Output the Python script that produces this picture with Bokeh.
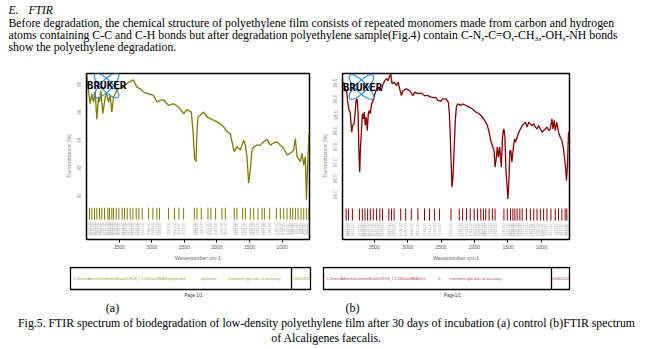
import math
from bokeh.plotting import figure
from bokeh.layouts import column, row
from bokeh.models import Range1d, FixedTicker, Label
from bokeh.core.properties import value
from bokeh.embed import file_html
from bokeh.resources import INLINE

# ---------------- data ----------------
A_WN = [3997, 3971, 3946, 3920, 3894, 3869, 3843, 3818, 3802, 3782,
        3751, 3715, 3690, 3664, 3638, 3613, 3587, 3561, 3536, 3510,
        3433, 3357, 3280, 3228, 3177, 3126, 3049, 2972, 2921, 2870,
        2819, 2742, 2665, 2588, 2511, 2460, 2393, 2368, 2342, 2322,
        2306, 2291, 2255, 2204, 2153, 2101, 2050, 1999, 1948, 1896,
        1845, 1794, 1768, 1733, 1692, 1640, 1589, 1563, 1538, 1512,
        1487, 1461, 1435, 1384, 1333, 1282, 1231, 1179, 1128, 1077,
        1026, 974, 923, 872, 820, 795, 769, 718, 693, 667,
        641, 626, 605, 590, 575]
A_T = [98.81, 97.57, 96.62, 97.33, 96.74, 97.45, 95.48, 97.10, 96.74, 97.57,
       95.90, 97.10, 97.33, 96.74, 97.21, 96.02, 97.10, 97.33, 97.57, 97.69,
       97.81, 98.17, 98.33, 97.81, 97.69, 97.45, 97.33, 97.21, 96.74, 96.86,
       96.90, 96.50, 96.62, 96.38, 95.90, 96.19, 96.02, 94.71, 92.69, 92.45,
       94.48, 95.67, 95.79, 96.02, 95.67, 95.55, 95.43, 95.31, 95.19, 94.95,
       94.60, 94.48, 93.88, 93.17, 93.52, 93.29, 94.00, 93.64, 92.81, 90.90,
       91.86, 93.29, 93.52, 93.64, 93.64, 93.88, 94.05, 93.64, 93.81, 93.88,
       93.64, 93.40, 92.93, 93.05, 93.29, 94.12, 92.81, 92.45, 93.05, 92.21,
       92.81, 89.71, 92.33, 94.36, 94.48]

B_WN = [3975, 3960, 3936, 3911, 3896, 3876, 3861, 3847, 3837, 3822,
        3802, 3787, 3772, 3757, 3743, 3728, 3718, 3708, 3693, 3678,
        3663, 3649, 3634, 3619, 3604, 3589, 3574, 3559, 3540, 3515,
        3490, 3465, 3441, 3416, 3391, 3366, 3342, 3317, 3292, 3267,
        3253, 3233, 3203, 3168, 3144, 3119, 3094, 3069, 3020, 2970,
        2921, 2896, 2847, 2797, 2748, 2698, 2649, 2574, 2550, 2500,
        2475, 2426, 2391, 2376, 2362, 2347, 2337, 2322, 2302, 2287,
        2272, 2253, 2203, 2178, 2129, 2079, 2030, 1980, 1931, 1881,
        1832, 1807, 1782, 1758, 1733, 1708, 1693, 1678, 1659, 1644,
        1624, 1599, 1584, 1570, 1560, 1545, 1530, 1510, 1500, 1485,
        1471, 1456, 1441, 1421, 1401, 1386, 1362, 1337, 1312, 1287,
        1263, 1238, 1213, 1188, 1164, 1139, 1114, 1089, 1065, 1040,
        1015, 990, 966, 941, 916, 891, 867, 842, 827, 807,
        792, 768, 743, 718, 693, 669, 654, 639, 624, 609,
        594, 579]
B_T = [99.48, 99.53, 99.32, 99.22, 98.90, 98.64, 98.59, 98.22, 97.96, 98.17,
       98.22, 98.54, 98.96, 99.01, 98.64, 97.23, 96.70, 97.38, 97.96, 98.54,
       98.38, 98.59, 98.17, 98.43, 98.01, 98.54, 98.64, 98.54, 98.85, 98.96,
       99.17, 99.32, 99.38, 99.27, 99.32, 99.48, 99.58, 99.64, 99.58, 99.74,
       99.79, 99.48, 99.53, 99.43, 99.53, 99.32, 99.11, 99.27, 99.32, 99.27,
       99.11, 99.22, 99.17, 99.19, 99.11, 99.11, 99.06, 99.04, 98.96, 98.94,
       99.01, 99.01, 98.90, 98.54, 97.80, 96.86, 96.23, 96.54, 97.59, 98.33,
       98.75, 98.85, 98.80, 98.85, 98.80, 98.75, 98.69, 98.59, 98.54, 98.43,
       98.27, 98.17, 97.96, 97.70, 97.54, 97.38, 96.86, 97.07, 97.49, 97.17,
       97.49, 96.86, 97.70, 98.01, 98.06, 97.80, 96.75, 96.18, 95.86, 96.44,
       97.38, 97.38, 97.02, 97.44, 97.75, 97.65, 97.80, 97.96, 98.06, 98.17,
       98.22, 98.27, 98.12, 98.27, 98.22, 98.17, 98.22, 98.12, 98.06, 98.17,
       98.06, 97.96, 98.01, 98.06, 98.12, 98.01, 98.06, 98.38, 98.06, 98.33,
       98.01, 98.27, 97.96, 97.80, 97.70, 97.44, 97.17, 96.86, 96.44, 96.96,
       97.96, 97.96]

A_PEAKS = [3956, 3920, 3879, 3843, 3802, 3766, 3725, 3674, 3649, 3613,
           3587, 3546, 3505, 3454, 3418, 3377, 3331, 3290, 3239, 3198,
           3147, 3049, 2983, 2921, 2880, 2742, 2650, 2583, 2511, 2347,
           2306, 2240, 2137, 2091, 2020, 1922, 1871, 1733, 1692, 1604,
           1563, 1487, 1435, 1369, 1307, 1271, 1189, 1087, 1026, 974,
           923, 872, 836, 795, 754, 708, 667, 626, 590]
B_PEAKS = [3921, 3886, 3827, 3723, 3678, 3639, 3599, 3559, 3515, 3465,
           3416, 3376, 3282, 3243, 3203, 3104, 3030, 2946, 2847, 2748,
           2673, 2599, 2525, 2352, 2228, 2178, 2119, 2064, 2005, 1956,
           1906, 1867, 1832, 1782, 1733, 1693, 1560, 1510, 1461, 1426,
           1396, 1362, 1322, 1287, 1223, 1164, 1114, 1065, 1015, 966,
           916, 857, 792, 743, 693, 644, 619]

X_TICKS = [3500, 3000, 2500, 2000, 1500, 1000]
A_YTICKS = [98, 96, 94, 92, 90]
A_YLABELS = ["98", "96", "94", "92", "90"]
B_YTICKS = [99.5, 99.0, 98.5, 98.0, 97.5, 97.0, 96.5, 96.0]
B_YLABELS = ["99.5", "99.0", "98.5", "98.0", "97.5", "97.0", "96.5", "96.0"]

HEADING = ["E.", "FTIR"]
PARA = ["Before degradation, the chemical structure of  polyethylene film consists of repeated monomers made from carbon and hydrogen",
        "atoms containing C-C and C-H bonds but after degradation polyethylene sample(Fig.4) contain C-N,-C=O,-CH\u2083,-OH,-NH bonds",
        "show the polyethylene degradation."]
CAPTION = ["Fig.5. FTIR spectrum of biodegradation of low-density polyethylene film after 30 days of incubation (a) control (b)FTIR spectrum",
           "of Alcaligenes faecalis."]
FOOT_A = ["C:\\Users\\Admin\\Documents\\Bruker\\OPUS_7.5.18\\Data\\MEAS\\polyetenal.0", "alpolietinal",
          "Instrument type and / or accessory", "06/06/2022"]
FOOT_B = ["C:\\Users\\Admin\\Documents\\Bruker\\OPUS_7.5.18\\Data\\MEAS\\0.0", "0",
          "Instrument type and / or accessory", "06/06/2022"]

SERIF = "Liberation Serif"
SANS = "Liberation Sans"
OLIVE = "#7f7a00"
DRED = "#8b0000"


def canvas(w, h, y_top, y_bot):
    p = figure(width=w, height=h, x_range=Range1d(0, w), y_range=Range1d(y_bot, y_top),
               output_backend="svg", toolbar_location=None, x_axis_type=None, y_axis_type=None,
               min_border=0, outline_line_color=None)
    p.xgrid.visible = False
    p.ygrid.visible = False
    p.background_fill_color = "white"
    p.border_fill_color = "white"
    return p


def txt(p, x, y, s, size, font=SERIF, align="left", color="black", style="normal", angle=0):
    p.text(x=[x], y=[y], text=[s], text_font=value(font), text_font_size=size,
           text_align=align, text_baseline="middle", text_color=color,
           text_font_style=style, angle=angle)


# ---------------- header ----------------
head = canvas(659, 66, 0, 66)
txt(head, 8, 9, HEADING[0], "11.5px", style="italic")
txt(head, 28, 9, HEADING[1], "11.5px", style="italic")
for i, line in enumerate(PARA):
    txt(head, 8, 22 + 12 * i, line, "11.8px")


# ---------------- spectra ----------------
def spectrum(width, bl, br, xr, yr, ybounds, yticks, ylabels, wn, tr, peaks, color,
             mark_y, logo_xy, text_x):
    p = figure(width=width, height=200, x_range=Range1d(*xr), y_range=Range1d(*yr),
               output_backend="svg", toolbar_location=None,
               min_border_left=bl, min_border_right=br, min_border_top=7, min_border_bottom=27,
               x_axis_label="Wavenumber cm-1", y_axis_label="Transmittance [%]")
    p.xgrid.visible = False
    p.ygrid.visible = False
    p.outline_line_color = "black"
    p.outline_line_width = 1.5
    p.background_fill_color = "white"
    p.border_fill_color = "white"

    xa = p.xaxis[0]
    xa.ticker = FixedTicker(ticks=X_TICKS)
    xa.axis_line_color = None
    xa.major_tick_out = 3
    xa.major_tick_in = 0
    xa.minor_tick_line_color = None
    xa.major_label_standoff = 2
    xa.major_label_text_font = SANS
    xa.major_label_text_font_size = "5px"
    xa.major_label_text_color = "#555555"
    xa.axis_label_standoff = 3
    xa.axis_label_text_font = SANS
    xa.axis_label_text_font_size = "5.5px"
    xa.axis_label_text_font_style = "normal"
    xa.axis_label_text_color = "#666666"

    ya = p.yaxis[0]
    ya.ticker = FixedTicker(ticks=yticks)
    ya.major_label_overrides = {t: l for t, l in zip(yticks, ylabels)}
    ya.bounds = ybounds
    ya.axis_line_color = None
    ya.major_tick_out = 0
    ya.major_tick_in = 0
    ya.minor_tick_line_color = None
    ya.major_label_orientation = "vertical"
    ya.major_label_standoff = 5
    ya.major_label_text_font = SANS
    ya.major_label_text_font_size = "4.5px"
    ya.major_label_text_color = "#8a8a8a"
    ya.axis_label_standoff = 3
    ya.axis_label_text_font = SANS
    ya.axis_label_text_font_size = "5.5px"
    ya.axis_label_text_font_style = "normal"
    ya.axis_label_text_color = "#8a8a8a"

    p.line(wn, tr, line_color=color, line_width=1.3)

    y0, y1, yl = mark_y
    n = len(peaks)
    p.segment(x0=peaks, y0=[y0] * n, x1=peaks, y1=[y1] * n, line_color=color, line_width=1.0)
    p.text(x=peaks, y=[yl] * n, text=[str(v) + ".00" for v in peaks], angle=math.pi / 2,
           text_font=value(SANS), text_font_size="3.6px", text_color="#a0a0a0",
           text_align="center", text_baseline="middle")

    cx, cy = logo_xy
    p.ellipse(x=[cx, cx], y=[cy, cy], width=[33, 33], height=[11, 11],
              angle=[math.pi / 4, -math.pi / 4], width_units="screen", height_units="screen",
              fill_color=None, line_color="#2b8ce6", line_width=1.2)
    p.add_layout(Label(x=text_x, y=cy, text="BRUKER", text_font="DejaVu Sans Mono",
                       text_font_style="bold", text_font_size="11px", text_color="black",
                       text_baseline="middle", text_align="left"))
    return p


fig_a = spectrum(318, 86, 9, (4002, 578), (86.86, 98.79), (89.57, 98.79),
                 A_YTICKS, A_YLABELS, A_WN, A_T, A_PEAKS, OLIVE,
                 (89.14, 88.29, 87.61), (3695, 97.93), 3998)
fig_b = spectrum(341, 23, 90, (3975, 579), (94.585, 99.805), (95.81, 99.805),
                 B_YTICKS, B_YLABELS, B_WN, B_T, B_PEAKS, DRED,
                 (95.56, 95.18, 94.88), (3692, 99.38), 3972)

# ---------------- footer ----------------
foot = canvas(659, 83, 266, 349)
for (l, r, d, col, items, xs, page_x, page_t, lab_x, lab) in [
        (70, 310, 291, "#a3a010", FOOT_A, [73, 200, 228, 293], 193, "Page 1/1", 112, "(a)"),
        (323, 569, 551, "#c03a3a", FOOT_B, [326, 438, 449, 552], 452, "Page1/1", 352, "(b)")]:
    foot.quad(left=[l], right=[r], top=[267], bottom=[289], fill_color=None,
              line_color="black", line_width=1.3)
    foot.segment(x0=[d], y0=[267], x1=[d], y1=[289], line_color="black", line_width=1.3)
    for s, x in zip(items, xs):
        txt(foot, x, 278, s, "3.4px", font=SANS, color=col)
    txt(foot, page_x, 295, page_t, "4.5px", font=SANS, align="center", color="#333333")
    txt(foot, lab_x, 307, lab, "12px", align="center")

txt(foot, 326, 322, CAPTION[0], "11.8px", align="center")
txt(foot, 326, 337, CAPTION[1], "11.8px", align="center")

layout = column(head, row(fig_a, fig_b), foot)
open("out.html", "w").write(file_html(layout, INLINE))
